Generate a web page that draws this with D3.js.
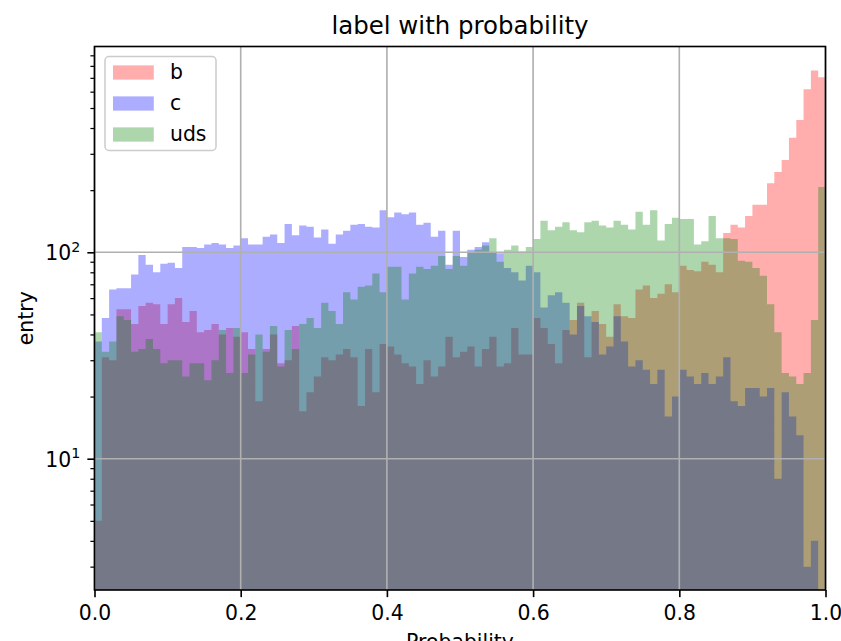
<!DOCTYPE html>
<html>
<head>
<meta charset="utf-8">
<script src="https://cdn.jsdelivr.net/npm/d3@7"></script>
<style>
  body { margin: 0; background: #fff; }
  svg { display: block; font-family: "DejaVu Sans", sans-serif; }
</style>
</head>
<body>
<svg id="chart" width="841" height="641"></svg>
<script>
// Histogram counts per bin (100 equal bins on [0, 1])
const bCounts = [
  5, 31, 30, 53, 53, 45, 55, 57, 56, 45,
  56, 60, 46, 52, 41, 42, 45, 40, 43, 39,
  41, 34, 19, 34, 40, 29, 30, 44, 17, 21,
  25, 31, 30, 32, 34, 31, 18, 34, 21, 36,
  35, 32, 29, 28, 23, 30, 25, 28, 39, 31,
  33, 35, 28, 34, 39, 28, 29, 43, 32, 32,
  48, 43, 36, 29, 42, 47, 57, 31, 52, 45,
  39, 56, 49, 48, 66, 69, 60, 63, 70, 64,
  86, 82, 81, 90, 87, 80, 124, 136, 132, 150,
  170, 170, 216, 245, 280, 359, 438, 616, 760, 704
];
const cCounts = [
  37, 48, 66, 67, 67, 78, 97, 87, 80, 88,
  89, 84, 106, 106, 105, 109, 111, 109, 105, 108,
  117, 109, 109, 119, 122, 111, 137, 121, 135, 133,
  118, 129, 110, 122, 127, 136, 137, 133, 132, 160,
  148, 156, 153, 156, 136, 139, 119, 127, 87, 127,
  95, 103, 106, 112, 100, 99, 84, 80, 73, 86,
  80, 54, 62, 64, 57, 40, 55, 49, 46, 32,
  35, 49, 37, 28, 30, 27, 23, 27, 16, 20,
  27, 25, 23, 26, 23, 25, 31, 19, 18, 22,
  22, 20, 22, 8, 21, 16, 13, 3, 4, 0
];
const udsCounts = [
  41, 33, 37, 49, 47, 33, 34, 38, 34, 29,
  30, 30, 25, 29, 29, 24, 30, 42, 26, 43,
  26, 32, 40, 33, 44, 28, 42, 34, 45, 48,
  43, 57, 52, 45, 64, 59, 68, 69, 79, 64,
  85, 85, 59, 79, 85, 83, 86, 96, 83, 96,
  86, 100, 103, 108, 117, 90, 103, 108, 101, 106,
  116, 142, 128, 133, 140, 128, 125, 140, 142, 135,
  132, 142, 136, 129, 157, 136, 160, 114, 137, 147,
  145, 145, 109, 113, 150, 117, 117, 116, 91, 90,
  84, 77, 56, 41, 26, 25, 23, 26, 47, 207
];

const seriesNames = ["b", "c", "uds"];
const seriesColors = ["red", "blue", "green"];
const seriesCounts = [bCounts, cCounts, udsCounts];
const fillAlpha = 0.32;

const xTickValues = [0, 0.2, 0.4, 0.6, 0.8, 1.0];
const yMajorTicks = [10, 100];
const yDomain = [2.312, 993];

const titleText = "label with probability";
const xLabelText = "Probability";
const yLabelText = "entry";

// Layout
const plot = { left: 94.5, right: 825.5, top: 46.5, bottom: 590 };
const fs = 20.4;          // base font size (10pt)
const pt = 2.04;          // px per point

const svg = d3.select("#chart");

const x = d3.scaleLinear().domain([0, 1]).range([plot.left, plot.right]);
const y = d3.scaleLog().domain(yDomain).range([plot.bottom, plot.top]);

const nBins = bCounts.length;
const edges = d3.range(nBins + 1).map(i => i / nBins);

svg.append("defs").append("clipPath").attr("id", "plotClip")
  .append("rect")
  .attr("x", plot.left).attr("y", plot.top)
  .attr("width", plot.right - plot.left)
  .attr("height", plot.bottom - plot.top);

// Histogram bars as step areas, one per series, drawn in order
const area = d3.area()
  .x(d => x(d.x0))
  .y0(plot.bottom)
  .y1(d => d.v > 0 ? y(d.v) : plot.bottom)
  .curve(d3.curveStepAfter);

const barsG = svg.append("g").attr("clip-path", "url(#plotClip)");
seriesCounts.forEach((counts, k) => {
  const pts = counts.map((v, i) => ({ x0: edges[i], v }));
  pts.push({ x0: edges[nBins], v: counts[nBins - 1] });
  barsG.append("path")
    .attr("d", area(pts))
    .attr("fill", seriesColors[k])
    .attr("fill-opacity", fillAlpha)
    .attr("stroke", "none");
});

// Grid lines
const gridG = svg.append("g").attr("stroke", "#b0b0b0").attr("stroke-width", 0.8 * pt);
gridG.selectAll("line.gx").data(xTickValues).join("line")
  .attr("x1", d => x(d)).attr("x2", d => x(d))
  .attr("y1", plot.top).attr("y2", plot.bottom);
gridG.selectAll("line.gy").data(yMajorTicks).join("line")
  .attr("x1", plot.left).attr("x2", plot.right)
  .attr("y1", d => y(d)).attr("y2", d => y(d));

// X axis
const xAxisG = svg.append("g")
  .attr("transform", `translate(0,${plot.bottom})`)
  .call(d3.axisBottom(x).tickValues(xTickValues).tickFormat(d3.format(".1f"))
    .tickSize(3.5 * pt).tickSizeOuter(0).tickPadding(8.1));
xAxisG.select(".domain").remove();
xAxisG.attr("font-size", fs).attr("font-family", "DejaVu Sans");
xAxisG.selectAll(".tick line").attr("stroke", "#000").attr("stroke-width", 0.8 * pt);
xAxisG.selectAll(".tick text").attr("fill", "#000");

// Y axis: minor ticks
const minorTicks = [];
[1, 10, 100].forEach(dec => {
  for (let m = 2; m <= 9; m++) {
    const v = m * dec;
    if (v >= yDomain[0] && v <= yDomain[1]) minorTicks.push(v);
  }
});
const yMinorG = svg.append("g")
  .attr("transform", `translate(${plot.left},0)`)
  .call(d3.axisLeft(y).tickValues(minorTicks).tickFormat("").tickSize(2 * pt).tickSizeOuter(0));
yMinorG.select(".domain").remove();
yMinorG.selectAll(".tick line").attr("stroke", "#000").attr("stroke-width", 0.6 * pt);

// Y axis: major ticks with power-of-ten labels
const yAxisG = svg.append("g")
  .attr("transform", `translate(${plot.left},0)`)
  .call(d3.axisLeft(y).tickValues(yMajorTicks).tickFormat("")
    .tickSize(3.5 * pt).tickSizeOuter(0).tickPadding(3.5 * pt));
yAxisG.select(".domain").remove();
yAxisG.attr("font-size", fs).attr("font-family", "DejaVu Sans");
yAxisG.selectAll(".tick line").attr("stroke", "#000").attr("stroke-width", 0.8 * pt);
yAxisG.selectAll(".tick text").each(function(d) {
  const t = d3.select(this).attr("fill", "#000").attr("dy", "0.36em");
  t.text(null);
  t.append("tspan").text("10");
  t.append("tspan").attr("font-size", fs * 0.7).attr("dy", -8.5)
    .text(String(Math.round(Math.log10(d))));
});

// Frame
svg.append("rect")
  .attr("x", plot.left).attr("y", plot.top)
  .attr("width", plot.right - plot.left).attr("height", plot.bottom - plot.top)
  .attr("fill", "none").attr("stroke", "#000").attr("stroke-width", 0.8 * pt);

// Title and axis labels
svg.append("text")
  .attr("x", (plot.left + plot.right) / 2).attr("y", 33.8)
  .attr("text-anchor", "middle").attr("font-size", fs * 1.2)
  .text(titleText);
svg.append("text")
  .attr("x", (plot.left + plot.right) / 2).attr("y", 649)
  .attr("text-anchor", "middle").attr("font-size", fs)
  .text(xLabelText);
svg.append("text")
  .attr("transform", `translate(32.6,${(plot.top + plot.bottom) / 2}) rotate(-90)`)
  .attr("text-anchor", "middle").attr("font-size", fs)
  .text(yLabelText);

// Legend
const leg = { x: 105, y: 56.5, w: 111, h: 94, row0: 72.5, rowStep: 31 };
const legG = svg.append("g");
legG.append("rect")
  .attr("x", leg.x).attr("y", leg.y).attr("width", leg.w).attr("height", leg.h)
  .attr("rx", 4).attr("ry", 4)
  .attr("fill", "#fff").attr("fill-opacity", 0.8)
  .attr("stroke", "#cccccc").attr("stroke-width", 1.5);
seriesNames.forEach((name, k) => {
  const cy = leg.row0 + k * leg.rowStep;
  legG.append("rect")
    .attr("x", 113).attr("y", cy - 0.35 * fs)
    .attr("width", 2 * fs).attr("height", 0.7 * fs)
    .attr("fill", seriesColors[k]).attr("fill-opacity", fillAlpha);
  legG.append("text")
    .attr("x", 170).attr("y", cy + 6.5)
    .attr("font-size", fs)
    .text(name);
});
</script>
</body>
</html>
